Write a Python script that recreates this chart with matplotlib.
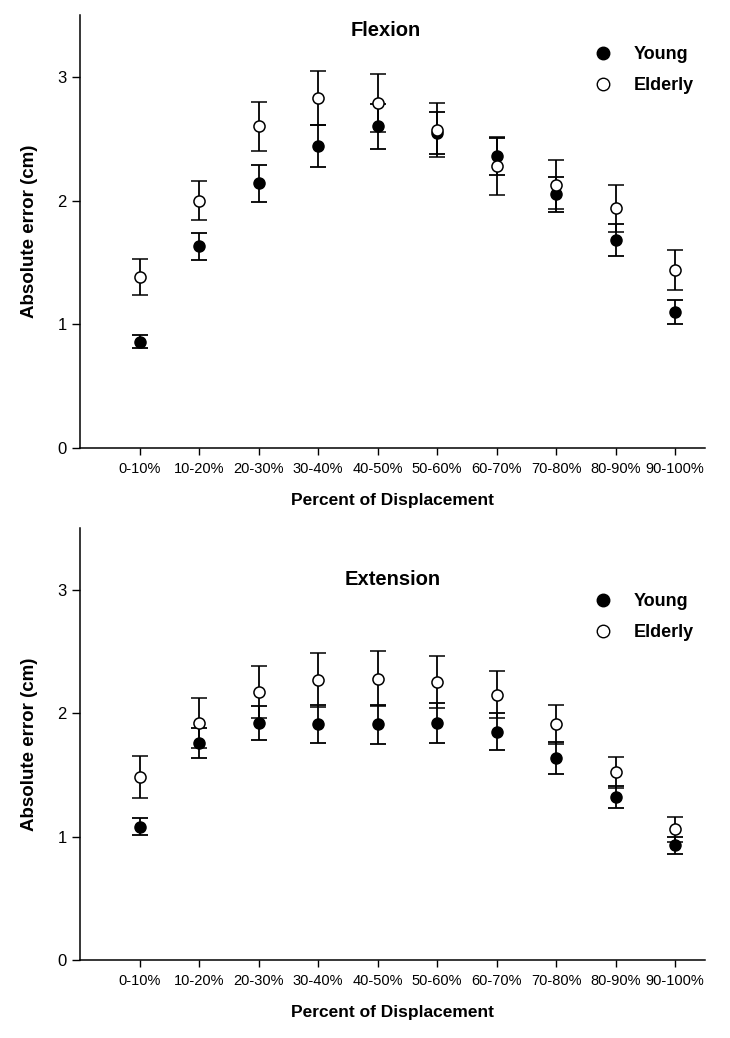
import numpy as np
import matplotlib.pyplot as plt
from matplotlib.lines import Line2D

plt.rcParams['font.family'] = ['Liberation Sans', 'DejaVu Sans']

categories = ['0-10%', '10-20%', '20-30%', '30-40%', '40-50%',
              '50-60%', '60-70%', '70-80%', '80-90%', '90-100%']

# Flexion
flex_young = [0.86, 1.63, 2.14, 2.44, 2.60, 2.55, 2.36, 2.05, 1.68, 1.10]
flex_young_err = [0.055, 0.11, 0.15, 0.17, 0.18, 0.17, 0.15, 0.14, 0.13, 0.10]
flex_elderly = [1.38, 2.00, 2.60, 2.83, 2.79, 2.57, 2.28, 2.13, 1.94, 1.44]
flex_elderly_err = [0.145, 0.16, 0.20, 0.22, 0.235, 0.22, 0.235, 0.20, 0.19, 0.165]

# Extension
ext_young = [1.08, 1.76, 1.92, 1.91, 1.91, 1.92, 1.85, 1.64, 1.32, 0.93]
ext_young_err = [0.07, 0.12, 0.14, 0.155, 0.16, 0.16, 0.15, 0.13, 0.09, 0.07]
ext_elderly = [1.48, 1.92, 2.17, 2.27, 2.28, 2.25, 2.15, 1.91, 1.52, 1.06]
ext_elderly_err = [0.17, 0.20, 0.21, 0.22, 0.22, 0.21, 0.19, 0.16, 0.125, 0.10]

x = np.arange(1, len(categories) + 1)

fig = plt.figure(figsize=(7.3, 10.38), dpi=100)
ax1 = fig.add_axes([0.1096, 0.5684, 0.856, 0.417])
ax2 = fig.add_axes([0.1096, 0.0751, 0.856, 0.4162])


def draw(ax, title, young, young_err, elderly, elderly_err, title_x, title_y, leg_y):
    ax.errorbar(x, young, yerr=young_err, fmt='o', color='black',
                markerfacecolor='black', markeredgecolor='black', markersize=8,
                elinewidth=1.3, capsize=5.5, capthick=1.3, zorder=3)
    ax.errorbar(x, elderly, yerr=elderly_err, fmt='o', color='black',
                markerfacecolor='white', markeredgecolor='black', markersize=8,
                markeredgewidth=1.1, elinewidth=1.3, capsize=5.5, capthick=1.3, zorder=4)
    ax.set_xlim(0, 10.5)
    ax.set_ylim(0, 3.5)
    ax.set_yticks([0, 1, 2, 3])
    ax.set_xticks(x)
    ax.set_xticklabels(categories, fontsize=10.5)
    ax.tick_params(axis='y', labelsize=12, length=6, width=1, direction='out')
    ax.tick_params(axis='x', length=5, width=1, direction='out', pad=5)
    for s in ['top', 'right']:
        ax.spines[s].set_visible(False)
    for s in ['left', 'bottom']:
        ax.spines[s].set_linewidth(1.1)
    ax.set_ylabel('Absolute error (cm)', fontsize=13.5, fontweight='bold', labelpad=14)
    ax.set_xlabel('Percent of Displacement', fontsize=12.5, fontweight='bold', labelpad=12)
    ax.text(title_x, title_y, title, transform=ax.transAxes, ha='center', va='center',
            fontsize=14.5, fontweight='bold')
    handles = [
        Line2D([], [], marker='o', linestyle='none', markersize=9,
               markerfacecolor='black', markeredgecolor='black'),
        Line2D([], [], marker='o', linestyle='none', markersize=9,
               markerfacecolor='white', markeredgecolor='black'),
    ]
    ax.legend(handles, ['Young', 'Elderly'], loc='upper right',
              bbox_to_anchor=(1.0, leg_y), frameon=False,
              prop={'weight': 'bold', 'size': 13}, handletextpad=0.7,
              labelspacing=0.75, borderaxespad=0.2)


draw(ax1, 'Flexion', flex_young, flex_young_err, flex_elderly, flex_elderly_err,
     0.49, 0.965, 0.953)
draw(ax2, 'Extension', ext_young, ext_young_err, ext_elderly, ext_elderly_err,
     0.5, 0.88, 0.874)

fig.savefig('out.png', dpi=100)
